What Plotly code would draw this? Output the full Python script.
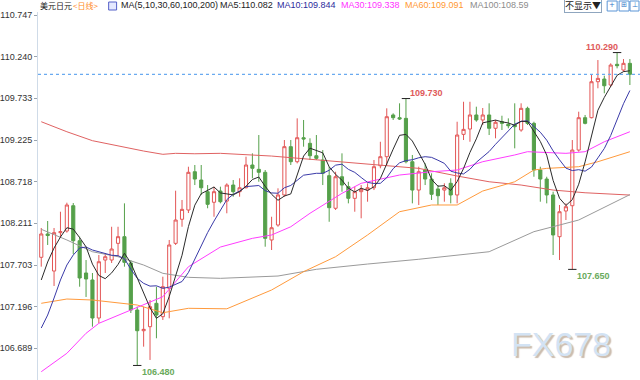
import plotly.graph_objects as go

# ---------------- data ----------------
OPEN = [107.797, 108.081, 107.630, 108.097, 108.117, 108.425, 107.999, 107.606, 107.521, 107.058,
        107.764, 107.764, 107.967, 108.048, 107.728, 107.155, 106.903, 106.952, 107.237, 107.074,
        107.420, 107.967, 108.260, 108.373, 108.839, 108.738, 108.596, 108.467, 108.604, 108.482,
        108.677, 108.596, 108.644, 108.921, 108.868, 108.832, 108.008, 108.190, 108.556, 109.144,
        108.961, 109.253, 109.185, 109.034, 108.982, 108.791, 108.394, 108.778, 108.657, 108.515,
        108.596, 108.616, 108.644, 108.912, 109.022, 109.530, 109.497, 109.489, 108.961, 108.616,
        108.860, 108.750, 108.629, 108.616, 108.698, 108.556, 109.294, 109.359, 109.530, 109.469,
        109.530, 109.368, 109.448, 109.416, 109.408, 109.347, 109.611, 109.428, 108.860, 108.750,
        108.556, 108.048, 108.361, 108.425, 109.103, 109.497, 109.497, 109.935, 109.968, 109.895,
        110.147, 110.077, 110.159]
HIGH = [108.154, 108.239, 108.154, 108.352, 108.462, 108.458, 108.048, 107.764, 107.606, 107.825,
        107.849, 108.169, 108.169, 108.454, 107.764, 107.196, 107.196, 107.277, 107.439, 107.561,
        108.008, 108.608, 108.495, 108.900, 108.921, 108.921, 108.677, 108.657, 108.657, 108.698,
        108.738, 108.759, 109.022, 109.063, 109.286, 108.860, 108.291, 108.637, 109.225, 109.225,
        109.489, 109.469, 109.246, 109.286, 109.103, 108.900, 108.839, 109.063, 108.717, 108.657,
        108.677, 108.698, 108.982, 109.204, 109.611, 109.550, 109.672, 109.730, 109.043, 108.900,
        108.941, 108.820, 108.677, 108.698, 108.759, 109.448, 109.691, 109.691, 109.631, 109.615,
        109.672, 109.469, 109.521, 109.489, 109.672, 109.672, 109.631, 109.448, 108.900, 108.778,
        108.596, 108.434, 108.454, 109.225, 109.570, 109.530, 110.017, 110.199, 110.008, 110.159,
        110.290, 110.211, 110.211]
LOW = [107.683, 107.947, 107.448, 108.032, 108.097, 107.837, 107.439, 107.314, 106.952, 106.997,
       107.606, 107.728, 107.804, 107.683, 107.119, 106.480, 106.709, 106.547, 106.811, 107.034,
       107.054, 107.947, 108.169, 108.336, 108.677, 108.556, 108.394, 108.291, 108.454, 108.333,
       108.535, 108.535, 108.637, 108.759, 108.717, 107.926, 107.886, 108.169, 108.535, 108.921,
       108.941, 109.144, 108.982, 108.982, 108.677, 108.230, 108.373, 108.596, 108.454, 108.352,
       108.272, 108.474, 108.616, 108.881, 108.921, 109.469, 109.469, 108.941, 108.454, 108.434,
       108.677, 108.495, 108.434, 108.474, 108.454, 108.454, 109.225, 109.204, 109.448, 109.408,
       109.286, 109.246, 109.347, 109.368, 109.124, 109.326, 109.408, 108.778, 108.474, 108.454,
       107.825, 107.764, 108.251, 107.650, 109.083, 109.416, 109.489, 109.855, 109.794, 109.874,
       110.098, 110.057, 109.895]
CLOSE = [108.081, 108.062, 108.097, 108.109, 108.434, 107.999, 107.545, 107.533, 107.058, 107.743,
         107.804, 107.898, 108.048, 107.736, 107.155, 106.903, 106.920, 107.196, 107.094, 107.439,
         107.947, 108.251, 108.381, 108.832, 108.750, 108.644, 108.442, 108.596, 108.474, 108.677,
         108.596, 108.644, 108.921, 108.881, 108.832, 108.028, 108.157, 108.556, 109.144, 108.961,
         109.253, 109.237, 109.034, 109.002, 108.820, 108.401, 108.778, 108.677, 108.515, 108.596,
         108.625, 108.644, 108.900, 109.022, 109.509, 109.497, 109.481, 108.961, 108.616, 108.839,
         108.750, 108.564, 108.547, 108.644, 108.556, 109.286, 109.355, 109.530, 109.469, 109.530,
         109.368, 109.441, 109.428, 109.399, 109.387, 109.611, 109.428, 108.860, 108.750, 108.556,
         108.069, 108.352, 108.413, 109.103, 109.497, 109.428, 109.935, 109.976, 109.886, 110.138,
         110.130, 110.159, 110.025]

MA5 = [107.521, 107.740, 107.910, 108.044, 108.157, 108.140, 108.037, 107.924, 107.714, 107.576,
       107.537, 107.607, 107.710, 107.846, 107.728, 107.548, 107.352, 107.182, 107.054, 107.110,
       107.319, 107.585, 107.822, 108.170, 108.432, 108.572, 108.610, 108.653, 108.581, 108.567,
       108.557, 108.597, 108.662, 108.744, 108.775, 108.661, 108.564, 108.491, 108.543, 108.569,
       108.814, 109.030, 109.126, 109.097, 109.069, 108.899, 108.807, 108.736, 108.638, 108.593,
       108.638, 108.611, 108.656, 108.757, 108.940, 109.114, 109.282, 109.294, 109.213, 109.079,
       108.929, 108.746, 108.663, 108.669, 108.612, 108.719, 108.878, 109.074, 109.239, 109.434,
       109.450, 109.468, 109.447, 109.433, 109.405, 109.453, 109.451, 109.337, 109.207, 109.041,
       108.733, 108.517, 108.428, 108.499, 108.687, 108.959, 109.275, 109.588, 109.744, 109.873,
       110.013, 110.058, 110.068]
MA10 = [106.936, 107.094, 107.301, 107.521, 107.703, 107.825, 107.910, 107.922, 107.886, 107.866,
        107.838, 107.822, 107.817, 107.780, 107.652, 107.542, 107.480, 107.446, 107.450, 107.419,
        107.434, 107.469, 107.502, 107.612, 107.771, 107.945, 108.098, 108.238, 108.376, 108.499,
        108.564, 108.604, 108.658, 108.663, 108.671, 108.609, 108.581, 108.577, 108.644, 108.672,
        108.738, 108.797, 108.808, 108.820, 108.819, 108.857, 108.919, 108.931, 108.868, 108.831,
        108.769, 108.709, 108.696, 108.698, 108.767, 108.876, 108.947, 108.975, 108.985, 109.009,
        109.022, 109.014, 108.979, 108.941, 108.846, 108.824, 108.812, 108.869, 108.954, 109.023,
        109.085, 109.173, 109.261, 109.336, 109.419, 109.452, 109.459, 109.392, 109.320, 109.223,
        109.093, 108.984, 108.883, 108.853, 108.864, 108.846, 108.896, 109.008, 109.122, 109.280,
        109.486, 109.667, 109.828]

MA30_IDX = [0, 4, 7, 9, 14, 19, 23, 28, 33, 36, 39, 42, 47, 50, 56, 61, 65, 69, 74, 76, 82, 85, 88, 92]
MA30 = [106.404, 106.628, 106.872, 106.993, 107.155, 107.317, 107.682, 107.922, 108.028, 108.069,
        108.169, 108.333, 108.576, 108.698, 108.799, 108.839, 108.860, 108.961, 109.043, 109.083,
        109.063, 109.083, 109.204, 109.326]
MA60_IDX = [0, 4, 8, 15, 19, 23, 29, 36, 41, 46, 51, 56, 61, 65, 69, 74, 77, 79, 84, 87, 92]
MA60 = [107.237, 107.289, 107.277, 107.216, 107.122, 107.176, 107.170, 107.399, 107.622, 107.804,
        108.069, 108.352, 108.434, 108.434, 108.604, 108.717, 108.860, 108.880, 108.900, 108.961,
        109.083]
MA100_IDX = [0, 4, 8, 12, 16, 19, 23, 28, 37, 43, 51, 59, 70, 77, 84, 92]
MA100 = [108.138, 108.008, 107.865, 107.804, 107.703, 107.602, 107.553, 107.541, 107.569, 107.651,
         107.715, 107.773, 107.865, 108.109, 108.251, 108.560]
MA200_IDX = [0, 4, 8, 12, 16, 19, 21, 24, 28, 36, 46, 59, 65, 70, 75, 80, 85, 92]
MA200 = [109.448, 109.326, 109.217, 109.152, 109.091, 109.051, 109.063, 109.058, 109.063, 109.030,
         108.961, 108.880, 108.787, 108.717, 108.677, 108.616, 108.583, 108.555]

Y_TICKS = ["110.747", "110.240", "109.733", "109.225", "108.718",
           "108.211", "107.703", "107.196", "106.689"]

TITLE = "美元日元"
PERIOD = "&lt;日线&gt;"
MA_SPEC = "MA(5,10,30,60,100,200)"
MA_HEAD = [("MA5:110.082", "#222222"), ("MA10:109.844", "#2b2b9c"),
           ("MA30:109.338", "#ff33ff"), ("MA60:109.091", "#ff9933"),
           ("MA100:108.59", "#8c8c8c")]

# marked extremes: (candle index, 'high' / 'low')
MARKS = [(90, "high"), (57, "high"), (15, "low"), (83, "low")]

# ---------------- figure ----------------
W, H = 640, 380
ML, MT = 35, 12
PW, PH = W - ML, H - MT


def px_x(p):
    return (p - ML) / PW


def px_y(p):
    return (H - p) / PH


RED = "#e35656"
GREEN = "#55a04a"

idx = list(range(len(CLOSE)))
fig = go.Figure()

fig.add_trace(go.Candlestick(
    x=idx, open=OPEN, high=HIGH, low=LOW, close=CLOSE,
    increasing=dict(line=dict(color=RED, width=1), fillcolor="#ffffff"),
    decreasing=dict(line=dict(color=GREEN, width=1), fillcolor=GREEN),
    whiskerwidth=0, showlegend=False, hoverinfo="skip"))

lines = [
    (MA200_IDX, MA200, "#e06262"),
    (MA100_IDX, MA100, "#9a9a9a"),
    (MA60_IDX, MA60, "#ff9a3c"),
    (MA30_IDX, MA30, "#ff3cff"),
    (list(range(len(MA10))), MA10, "#3a3aa8"),
    (list(range(len(MA5))), MA5, "#2a2a2a"),
]
for xs, ys, col in lines:
    fig.add_trace(go.Scatter(x=xs, y=ys, mode="lines",
                             line=dict(color=col, width=1),
                             showlegend=False, hoverinfo="skip"))

# extreme markers + labels
mx, my = [], []
for i, kind in MARKS:
    mx.append(i)
    my.append(HIGH[i] if kind == "high" else LOW[i])
fig.add_trace(go.Scatter(x=mx, y=my, mode="markers",
                         marker=dict(symbol="line-ew", size=6,
                                     line=dict(color="#222222", width=1)),
                         showlegend=False, hoverinfo="skip"))

annotations = []
for n, (i, kind) in enumerate(MARKS):
    val = HIGH[i] if kind == "high" else LOW[i]
    txt = "<b>%.3f</b>" % val
    if kind == "high":
        annotations.append(dict(x=i, y=val, text=txt, showarrow=False,
                                xanchor="right" if n == 0 else "left",
                                yanchor="bottom", xshift=3 if n == 0 else 2, yshift=-1,
                                font=dict(size=9, color="#e05a5a", family="Liberation Sans")))
    else:
        annotations.append(dict(x=i, y=val, text=txt, showarrow=False, xanchor="left",
                                yanchor="top", xshift=3, yshift=0,
                                font=dict(size=9, color="#6aaa5c", family="Liberation Sans")))

# header
hy = 1 + 6.5 / PH
hfont = "Liberation Sans"
annotations.append(dict(xref="paper", yref="paper", x=px_x(35), y=hy, text=TITLE,
                        showarrow=False, xanchor="left", yanchor="middle",
                        font=dict(size=8, color="#222222", family="Noto Sans CJK SC")))
annotations.append(dict(xref="paper", yref="paper", x=px_x(68), y=hy, text=PERIOD,
                        showarrow=False, xanchor="left", yanchor="middle",
                        font=dict(size=8, color="#ff8a1e", family="Noto Sans CJK SC")))
annotations.append(dict(xref="paper", yref="paper", x=px_x(116), y=hy, text=MA_SPEC,
                        showarrow=False, xanchor="left", yanchor="middle",
                        font=dict(size=9, color="#222222", family=hfont)))
head_x = [216, 273, 337, 402, 467]
for (t, c), hx in zip(MA_HEAD, head_x):
    annotations.append(dict(xref="paper", yref="paper", x=px_x(hx), y=hy, text=t,
                            showarrow=False, xanchor="left", yanchor="middle",
                            font=dict(size=9, color=c, family=hfont)))
annotations.append(dict(xref="paper", yref="paper", x=px_x(564), y=hy, text="不显示▼",
                        showarrow=False, xanchor="left", yanchor="middle",
                        bordercolor="#8fa6bf", borderwidth=1, borderpad=0, bgcolor="#ffffff",
                        font=dict(size=9, color="#222222", family="Noto Sans CJK SC")))
for gx, g in [(612, "+"), (624, "⊞"), (634.5, "⊥")]:
    annotations.append(dict(xref="paper", yref="paper", x=px_x(gx), y=hy, text=g,
                            showarrow=False, xanchor="center", yanchor="middle",
                            font=dict(size=7, color="#2f78c8", family="DejaVu Sans")))

# watermark with a soft shadow
annotations.append(dict(xref="paper", yref="paper", x=px_x(561), y=px_y(344),
                        text="FX678", showarrow=False, xanchor="center", yanchor="middle",
                        font=dict(size=34, color="#d3e3f4", family="Liberation Sans",
                                  shadow="2px 2px 1px #cbbcae")))

shapes = [
    dict(type="line", xref="paper", yref="y", x0=0, x1=1, y0=CLOSE[-1], y1=CLOSE[-1],
         line=dict(color="#6aaaf0", width=1.3, dash="dot")),
    dict(type="rect", xref="paper", yref="paper", x0=px_x(106), x1=px_x(114),
         y0=px_y(10), y1=px_y(2), line=dict(color="#5560c8", width=1), fillcolor="#e4e8ff"),
]
for a, b in [(607, 617), (619, 629), (630, 639)]:
    shapes.append(dict(type="rect", xref="paper", yref="paper", x0=px_x(a), x1=px_x(b),
                       y0=px_y(11), y1=px_y(1), line=dict(color="#5b95d6", width=1),
                       fillcolor="rgba(0,0,0,0)"))

tickvals = [float(t) for t in Y_TICKS]
fig.update_layout(
    width=W, height=H,
    margin=dict(l=ML, r=0, t=MT, b=0, pad=0),
    paper_bgcolor="#ffffff", plot_bgcolor="#ffffff",
    showlegend=False,
    annotations=annotations,
    shapes=shapes,
    xaxis=dict(range=[-0.51, 93.58], showgrid=False, zeroline=False, showticklabels=False,
               showline=False, ticks="", rangeslider=dict(visible=False), fixedrange=True),
    yaxis=dict(range=[106.303, 110.784], tickvals=tickvals, ticktext=Y_TICKS,
               showgrid=False, zeroline=False, showline=True, linecolor="#cfdbe8",
               linewidth=1, ticks="outside", ticklen=3, tickcolor="#9aa4ae",
               tickfont=dict(size=9, color="#333333", family="Liberation Sans"),
               fixedrange=True),
)

fig.write_html("out.html", config={"displayModeBar": False},
               post_script="document.body.style.margin='0';document.body.style.padding='0';"
                           "document.documentElement.style.overflow='hidden';")
